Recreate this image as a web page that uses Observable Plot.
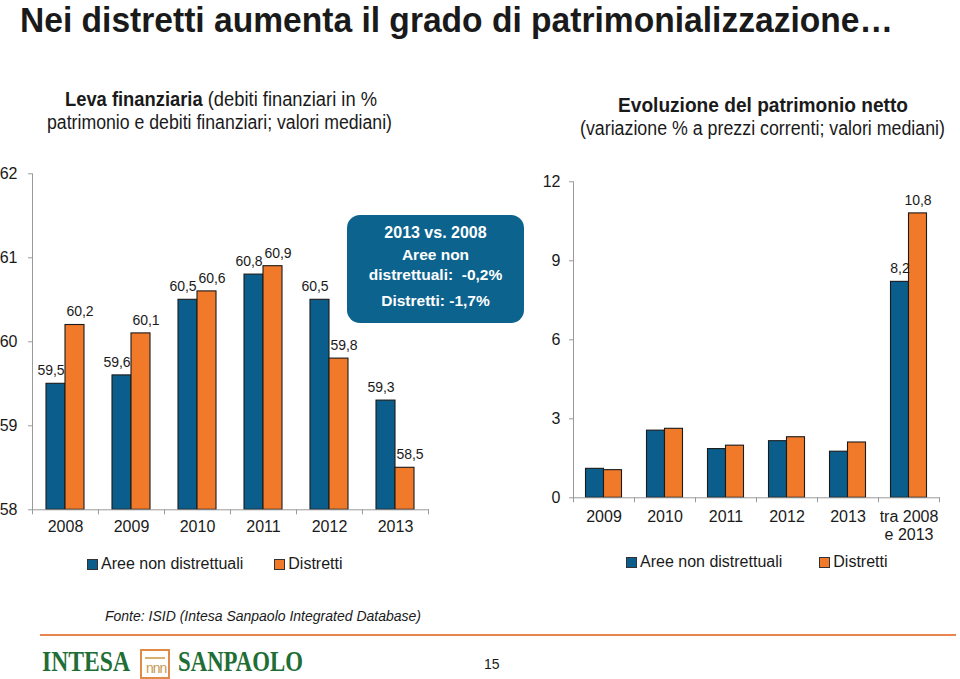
<!DOCTYPE html>
<html><head><meta charset="utf-8">
<script src="https://cdn.jsdelivr.net/npm/d3@7"></script>
<script src="https://cdn.jsdelivr.net/npm/@observablehq/plot@0.6"></script>
<style>
body{margin:0;background:#fff;}
#page{position:relative;width:960px;height:679px;overflow:hidden;font-family:"Liberation Sans",Arial,sans-serif;color:#1a1a1a;}
.abs{position:absolute;white-space:nowrap;}
.fit{display:inline-block;transform-origin:left top;}
.sub{font-size:19.5px;line-height:23px;}
.leg{font-size:16px;display:flex;align-items:center;}
.sq{display:inline-block;width:9px;height:9px;border:1px solid #333;margin-right:3px;}
#callout{left:347px;top:215px;width:177px;height:108px;border-radius:13px;background:#0b638e;color:#fff;font-weight:bold;text-align:center;font-size:15.5px;}
.logo{font-family:'Liberation Serif','DejaVu Serif',serif;font-weight:bold;font-size:30px;line-height:30px;color:#1f6e36;}
</style></head>
<body><div id="page">
<div class="abs" style="left:20px;top:1px;line-height:36px;"><span class="fit" data-w="873" data-h="1.12" style="font-size:31px;font-weight:bold;">Nei distretti aumenta il grado di patrimonializzazione…</span></div>
<div class="abs sub" style="left:65px;top:88px;"><span class="fit" data-w="312"><b>Leva finanziaria</b> (debiti finanziari in %</span></div>
<div class="abs sub" style="left:47px;top:111px;"><span class="fit" data-w="345">patrimonio e debiti finanziari; valori mediani)</span></div>
<div class="abs sub" style="left:618px;top:94px;"><span class="fit" data-w="290"><b>Evoluzione del patrimonio netto</b></span></div>
<div class="abs sub" style="left:580px;top:117px;"><span class="fit" data-w="365">(variazione % a prezzi correnti; valori mediani)</span></div>
<div id="left" class="abs" style="left:0;top:160px;"></div>
<div id="right" class="abs" style="left:540px;top:160px;"></div>
<div id="callout" class="abs">
<div style="margin-top:9px;font-size:16px;">2013 vs. 2008</div>
<div style="margin-top:3px;line-height:20px;">Aree non<br>distrettuali:&nbsp; -0,2%</div>
<div style="margin-top:7px;">Distretti: -1,7%</div>
</div>
<div class="abs leg" style="left:87px;top:555px;"><span class="sq" style="background:#0b5e8b"></span>Aree non distrettuali<span class="sq" style="background:#f07a2a;margin-left:31px"></span>Distretti</div>
<div class="abs leg" style="left:626px;top:553px;"><span class="sq" style="background:#0b5e8b"></span>Aree non distrettuali<span class="sq" style="background:#f07a2a;margin-left:37px"></span>Distretti</div>
<div class="abs" style="left:105px;top:608px;font-size:14px;font-style:italic;">Fonte: ISID (Intesa Sanpaolo Integrated Database)</div>
<div class="abs" style="left:40px;top:634px;width:916px;height:2px;background:#e8844e;"></div>
<div class="abs logo" style="left:42px;top:646px;"><span class="fit" data-w="88">INTESA</span></div>
<div class="abs" style="left:140px;top:649px;width:26px;height:26px;border:2px solid #e08a4a;overflow:hidden;">
  <div style="position:absolute;left:3px;top:6px;width:20px;height:2px;background:#d8b070;"></div>
  <div style="position:absolute;left:4px;top:10px;font-size:14px;line-height:14px;color:#c89a50;font-family:'Liberation Sans';letter-spacing:-1px;">nnn</div>
</div>
<div class="abs logo" style="left:178px;top:646px;"><span class="fit" data-w="125">SANPAOLO</span></div>
<div class="abs" style="left:484px;top:656px;font-size:14px;">15</div>
</div>
<script>
const yearsLeft = ["2008","2009","2010","2011","2012","2013"];
const leftAree = [59.5, 59.6, 60.5, 60.8, 60.5, 59.3];
const leftDistretti = [60.2, 60.1, 60.6, 60.9, 59.8, 58.5];
const leftTicks = [58, 59, 60, 61, 62];

const catsRight = ["2009","2010","2011","2012","2013","tra 2008\ne 2013"];
const rightAree = [1.1, 2.55, 1.85, 2.15, 1.75, 8.2];
const rightDistretti = [1.05, 2.62, 1.98, 2.3, 2.1, 10.8];
const rightTicks = [0, 3, 6, 9, 12];
const rightLabelled = ["tra 2008\ne 2013"];

const BLUE = "#0b5e8b", ORANGE = "#f07a2a", AXIS = "#9a9a9a";
const fmt = v => String(v).replace(".", ",");

// squeeze condensed-looking texts to their measured width
document.querySelectorAll(".fit").forEach(el => {
  const w = +el.dataset.w, cur = el.getBoundingClientRect().width;
  const sy = el.dataset.h ? +el.dataset.h : 1;
  if (cur > 0) el.style.transform = `scale(${w / cur}, ${sy})`;
});

function build(cats, aree, distr, ticks, domain, opt) {
  const rows = cats.map((c, i) => ({c, a: aree[i], d: distr[i]}));
  const band = (opt.width - opt.ml - opt.mr) / cats.length;
  const inOut = (band - 2 * opt.bw) / 2, inIn = band - inOut - opt.bw;
  const labRows = opt.labelled ? rows.filter(r => opt.labelled.includes(r.c)) : rows;
  const off = band / 2 - inOut - opt.bw / 2;
  return Plot.plot({
    width: opt.width, height: opt.height,
    marginLeft: opt.ml, marginRight: opt.mr, marginTop: opt.mt, marginBottom: opt.mb,
    style: {fontFamily: "Liberation Sans, Arial, sans-serif", fontSize: "16px", color: "#1a1a1a", background: "transparent", overflow: "visible"},
    x: {domain: cats, padding: 0, axis: null, label: null},
    y: {domain, axis: null, label: null},
    marks: [
      Plot.barY(rows, {x: "c", y1: domain[0], y2: "a", fill: BLUE, stroke: "#1a1a1a", strokeWidth: 1.1, insetLeft: inOut, insetRight: inIn}),
      Plot.barY(rows, {x: "c", y1: domain[0], y2: "d", fill: ORANGE, stroke: "#1a1a1a", strokeWidth: 1.1, insetLeft: inIn, insetRight: inOut}),
      Plot.text(labRows, {x: "c", y: "a", text: r => fmt(r.a), dx: -off - opt.ldx, dy: -13, fontSize: 14}),
      Plot.text(labRows, {x: "c", y: "d", text: r => fmt(r.d), dx: off + opt.ldx, dy: -13, fontSize: 14}),
      Plot.frame({anchor: "left", stroke: AXIS}),
      Plot.frame({anchor: "bottom", stroke: AXIS}),
      Plot.axisY({ticks, tickSize: 4, tickPadding: opt.tp, stroke: AXIS, fill: "#1a1a1a", fontSize: 16, tickFormat: d => String(d), label: null}),
      Plot.axisX({ticks: cats, tickSize: 5, dx: -band/2, stroke: AXIS, tickFormat: () => "", label: null}),
      Plot.axisX({ticks: cats.slice(-1), tickSize: 5, dx: band/2, stroke: AXIS, tickFormat: () => "", label: null}),
      Plot.axisX({tickSize: 0, tickPadding: opt.xp, fill: "#1a1a1a", fontSize: 16, lineHeight: 1.1, label: null})
    ]
  });
}

document.getElementById("left").append(build(yearsLeft, leftAree, leftDistretti, leftTicks, [58, 62],
  {width: 440, height: 395, ml: 32, mr: 12, mt: 13.3, mb: 45.7, bw: 19, tp: 11, xp: 10, ldx: 5}));
document.getElementById("right").append(build(catsRight, rightAree, rightDistretti, rightTicks, [0, 12],
  {width: 420, height: 395, ml: 33, mr: 21, mt: 21.3, mb: 57.7, bw: 18, tp: 9, xp: 12, ldx: 0, labelled: rightLabelled}));
</script>
</body></html>
